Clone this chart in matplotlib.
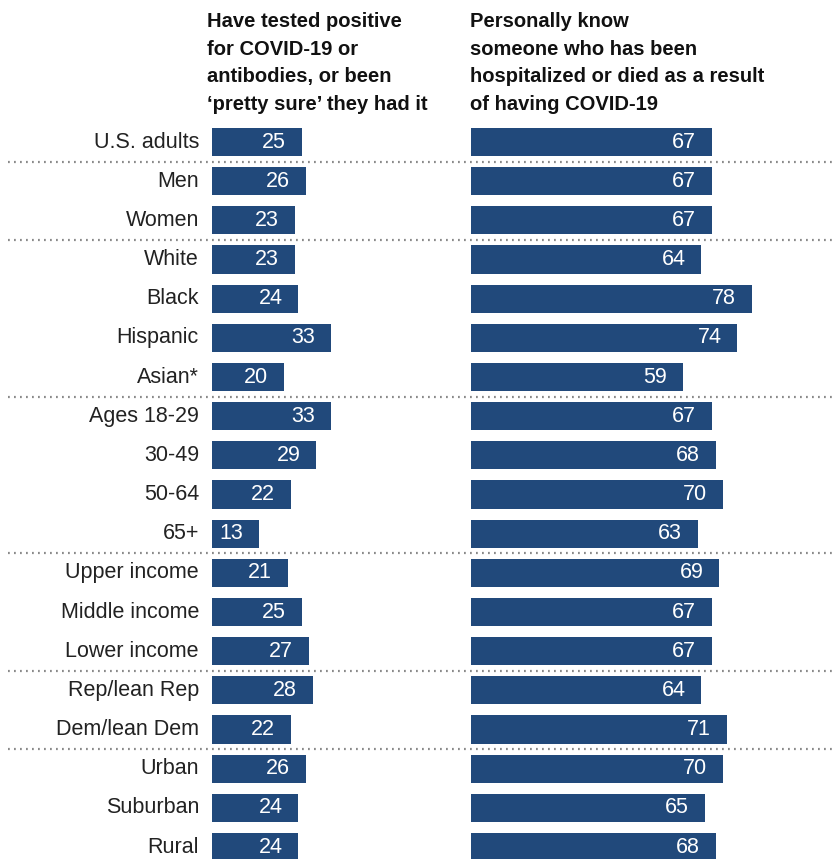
import matplotlib
matplotlib.use("Agg")
import matplotlib.pyplot as plt

categories = ["U.S. adults", "Men", "Women", "White", "Black", "Hispanic", "Asian*",
              "Ages 18-29", "30-49", "50-64", "65+", "Upper income", "Middle income",
              "Lower income", "Rep/lean Rep", "Dem/lean Dem", "Urban", "Suburban", "Rural"]
tested_positive = [25, 26, 23, 23, 24, 33, 20, 33, 29, 22, 13, 21, 25, 27, 28, 22, 26, 24, 24]
know_someone = [67, 67, 67, 64, 78, 74, 59, 67, 68, 70, 63, 69, 67, 67, 64, 71, 70, 65, 68]
separators_after = [0, 2, 6, 10, 13, 15]
title_left = "Have tested positive\nfor COVID-19 or\nantibodies, or been\n\u2018pretty sure\u2019 they had it"
title_right = "Personally know\nsomeone who has been\nhospitalized or died as a result\nof having COVID-19"

W, H = 834, 859
DPI = 100
PX_PER_UNIT = 3.6
ROW = 39.17
FIRST_ROW_PX = 142
LEFT_START_PX = 212
RIGHT_START_PX = 471

fig = plt.figure(figsize=(W / DPI, H / DPI), dpi=DPI)
ax = fig.add_axes([0, 0, 1, 1])
xmin = -LEFT_START_PX / PX_PER_UNIT
ax.set_xlim(xmin, xmin + W / PX_PER_UNIT)
ax.set_ylim((H - FIRST_ROW_PX) / ROW, -FIRST_ROW_PX / ROW)
ax.axis("off")

right_off = RIGHT_START_PX / PX_PER_UNIT + xmin
color = "#21497b"
ys = list(range(len(categories)))
ax.barh(ys, tested_positive, height=0.72, left=0, color=color)
ax.barh(ys, know_someone, height=0.72, left=right_off, color=color)

pad = 16 / PX_PER_UNIT
for y, c, a, b in zip(ys, categories, tested_positive, know_someone):
    ax.text(-13 / PX_PER_UNIT, y, c, ha="right", va="center", fontsize=15.5,
            family="Liberation Sans", color="#222222")
    ax.text(a - pad, y, str(a), ha="right", va="center", fontsize=15.5,
            family="Liberation Sans", color="white")
    ax.text(right_off + b - pad, y, str(b), ha="right", va="center", fontsize=15.5,
            family="Liberation Sans", color="white")

for s in separators_after:
    ax.axhline(s + 0.5, xmin=8 / W, xmax=1, color="#8a8a8a", lw=1.6,
               linestyle=(0, (0.8, 1.9)))

fig.text(207 / W, 1 - 12 / H, title_left, ha="left", va="top", fontsize=14.5,
         family="Liberation Sans", weight="bold", linespacing=1.57, color="#111111")
fig.text(470 / W, 1 - 12 / H, title_right, ha="left", va="top", fontsize=14.5,
         family="Liberation Sans", weight="bold", linespacing=1.57, color="#111111")

fig.savefig("out.png", dpi=DPI)
